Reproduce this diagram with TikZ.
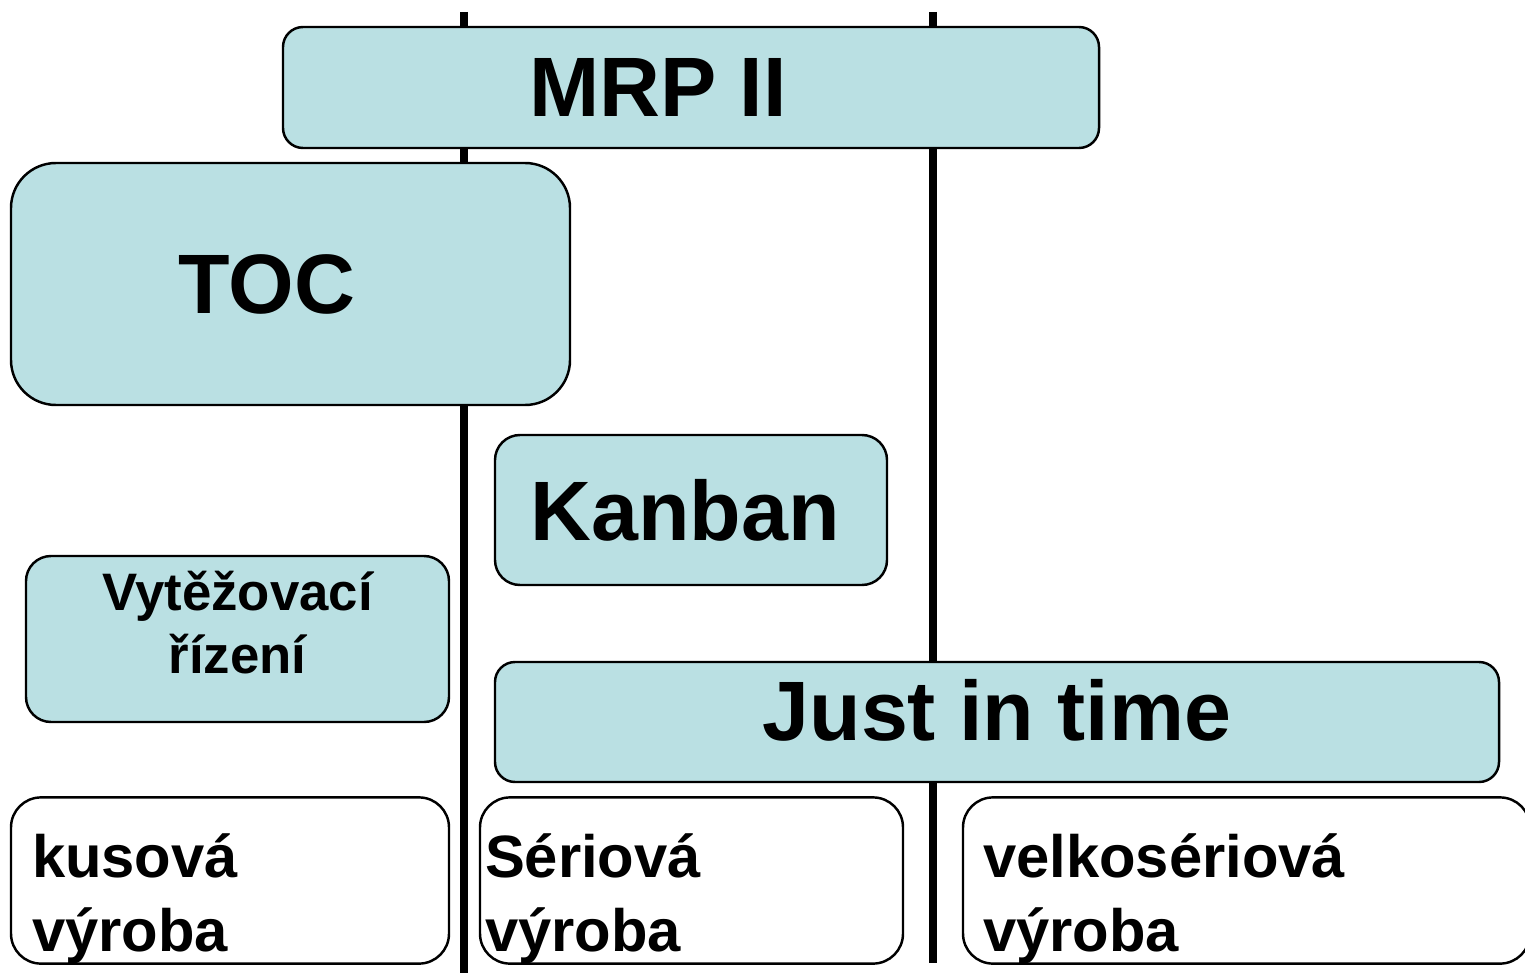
\documentclass[tikz,border=0pt]{standalone}
\usepackage{fontspec}
\setmainfont{Liberation Sans}
\definecolor{boxteal}{HTML}{BAE0E3}
\tikzset{
  bigtext/.style={font=\bfseries\fontsize{24}{29}\selectfont},
  tealbox/.style={draw, fill=boxteal, line width=0.7pt, inner sep=0pt, bigtext},
  prodbox/.style={draw, fill=white, line width=0.7pt, rounded corners=0.3cm,
    align=left, inner ysep=0pt, text height=0.80cm, minimum height=1.65cm,
    font=\bfseries\fontsize{17}{21}\selectfont},
  divider/.style={line width=2.3pt}
}
\begin{document}
\begin{tikzpicture}[y=-1cm]
\useasboundingbox (0,0) rectangle (15.25,9.73);
% the two dividers run behind the boxes
\coordinate (d1top) at (4.64,0.12);
\coordinate (d1bot) at (4.64,9.73);
\coordinate (d2top) at (9.33,0.12);
\coordinate (d2bot) at (9.33,9.63);
\draw[divider] (d1top) -- (d1bot);
\draw[divider] (d2top) -- (d2bot);
% control methods
\node[tealbox, rounded corners=0.2cm, minimum width=8.16cm, minimum height=1.21cm,
  label={[bigtext, xshift=-0.33cm]center:MRP II}] (mrp) at (6.91,0.875) {};
\node[tealbox, rounded corners=0.45cm, minimum width=5.59cm, minimum height=2.42cm,
  label={[bigtext, xshift=-0.235cm]center:TOC}] (toc) at (2.905,2.84) {};
\node[tealbox, rounded corners=0.25cm, minimum width=3.92cm, minimum height=1.50cm,
  label={[bigtext, xshift=-0.06cm]center:Kanban}] (kanban) at (6.91,5.10) {};
\node[tealbox, rounded corners=0.25cm, minimum width=4.23cm, minimum height=1.66cm,
  align=center, text depth=0.34cm, font=\bfseries\fontsize{15}{18}\selectfont] (vyt) at (2.375,6.39) {Vytěžovací\\řízení};
\node[tealbox, rounded corners=0.2cm, minimum width=10.04cm, minimum height=1.20cm,
  text depth=0.24cm] (jit) at (9.97,7.22) {Just in time};
% production types
\node[prodbox, inner xsep=0.21cm, text width=3.96cm] (kus) at (2.30,8.805) {kusová\\výroba};
\node[prodbox, inner xsep=0.05cm, text width=4.13cm] (serie) at (6.915,8.805) {Sériová\\výroba};
\node[prodbox, inner xsep=0.20cm, text width=5.27cm] (velko) at (12.465,8.805) {velkosériová\\výroba};
\end{tikzpicture}
\end{document}
